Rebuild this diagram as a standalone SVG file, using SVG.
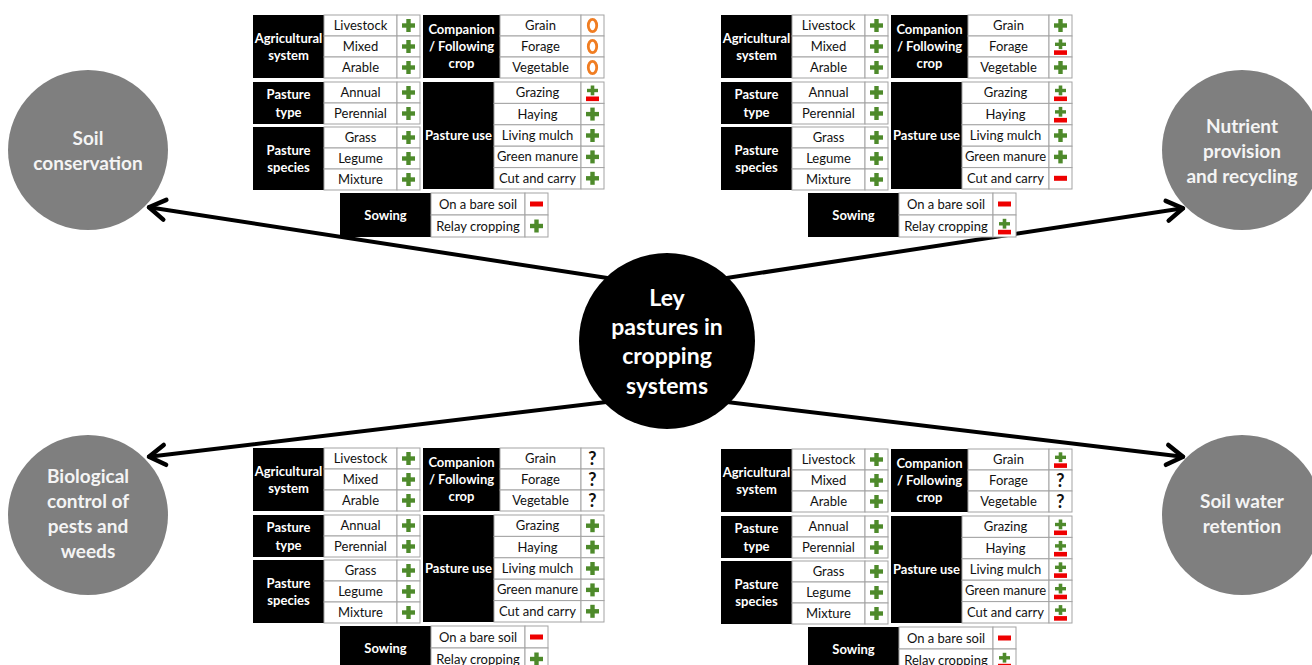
<svg xmlns="http://www.w3.org/2000/svg" width="1312" height="665" viewBox="0 0 1312 665">
<style>
.blk{fill:#000}
.cell{fill:#fff;stroke:#a3a3a3;stroke-width:1}
.it{font-family:Lato,"Liberation Sans",sans-serif;font-size:13px;fill:#111;text-anchor:middle}
.lb{font-family:Lato,"Liberation Sans",sans-serif;font-weight:bold;font-size:13px;fill:#fff;text-anchor:middle}
.ct{font-family:Lato,"Liberation Sans",sans-serif;font-weight:bold;font-size:19px;fill:#f4f4f4;text-anchor:middle}
.cc{font-family:Lato,"Liberation Sans",sans-serif;font-weight:bold;font-size:23px;fill:#fff;text-anchor:middle}
.q{font-family:Lato,"Liberation Sans",sans-serif;font-weight:bold;font-size:18px;fill:#111;text-anchor:middle}
.gc{fill:#7f7f7f}
.con{fill:none;stroke:#000;stroke-width:4;stroke-linecap:round;marker-end:url(#ah)}
</style>
<defs>
<marker id="ah" markerUnits="userSpaceOnUse" viewBox="-22 -14 26 28" refX="0" refY="0" markerWidth="26" markerHeight="28" orient="auto">
<path d="M-16,-10 L0,0 L-16,10" fill="none" stroke="#000" stroke-width="4.5" stroke-linecap="round" stroke-linejoin="round"/>
</marker>
<g id="p" fill="#4e8a2b"><rect x="-6.5" y="-2.2" width="13" height="4.4"/><rect x="-2.2" y="-6.5" width="4.4" height="13"/></g>
<rect id="m" x="-6.5" y="-2.5" width="13" height="5" fill="#ee0000"/>
<g id="pm"><g fill="#4e8a2b"><rect x="-5.5" y="-3.9" width="11" height="3.4"/><rect x="-1.8" y="-7.2" width="3.6" height="9.8"/></g><rect x="-6.5" y="3.8" width="13" height="4.6" fill="#ee0000"/></g>
<ellipse id="o" rx="4.2" ry="6.2" fill="none" stroke="#f07d22" stroke-width="2.8"/>
<g id="tbl">
<rect class="blk" x="253" y="15" width="71" height="63"/>
<rect class="blk" x="423" y="15" width="77" height="63"/>
<rect class="blk" x="253" y="82" width="71" height="42"/>
<rect class="blk" x="253" y="127" width="71" height="63"/>
<rect class="blk" x="423" y="82" width="71" height="107"/>
<rect class="blk" x="340" y="193" width="91" height="44"/>
<rect class="cell" x="324" y="15" width="73" height="21"/><rect class="cell" x="397" y="15" width="23" height="21"/>
<rect class="cell" x="324" y="36" width="73" height="21"/><rect class="cell" x="397" y="36" width="23" height="21"/>
<rect class="cell" x="324" y="57" width="73" height="21"/><rect class="cell" x="397" y="57" width="23" height="21"/>
<rect class="cell" x="500" y="15" width="81" height="21"/><rect class="cell" x="581" y="15" width="23" height="21"/>
<rect class="cell" x="500" y="36" width="81" height="21"/><rect class="cell" x="581" y="36" width="23" height="21"/>
<rect class="cell" x="500" y="57" width="81" height="21"/><rect class="cell" x="581" y="57" width="23" height="21"/>
<rect class="cell" x="324" y="82" width="73" height="21"/><rect class="cell" x="397" y="82" width="23" height="21"/>
<rect class="cell" x="324" y="103" width="73" height="21"/><rect class="cell" x="397" y="103" width="23" height="21"/>
<rect class="cell" x="324" y="127" width="73" height="21"/><rect class="cell" x="397" y="127" width="23" height="21"/>
<rect class="cell" x="324" y="148" width="73" height="21"/><rect class="cell" x="397" y="148" width="23" height="21"/>
<rect class="cell" x="324" y="169" width="73" height="21"/><rect class="cell" x="397" y="169" width="23" height="21"/>
<rect class="cell" x="494" y="82" width="87" height="21.4"/><rect class="cell" x="581" y="82" width="23" height="21.4"/>
<rect class="cell" x="494" y="103.4" width="87" height="21.4"/><rect class="cell" x="581" y="103.4" width="23" height="21.4"/>
<rect class="cell" x="494" y="124.8" width="87" height="21.4"/><rect class="cell" x="581" y="124.8" width="23" height="21.4"/>
<rect class="cell" x="494" y="146.2" width="87" height="21.4"/><rect class="cell" x="581" y="146.2" width="23" height="21.4"/>
<rect class="cell" x="494" y="167.6" width="87" height="21.4"/><rect class="cell" x="581" y="167.6" width="23" height="21.4"/>
<rect class="cell" x="431" y="193" width="94" height="22"/><rect class="cell" x="525" y="193" width="23" height="22"/>
<rect class="cell" x="431" y="215" width="94" height="22"/><rect class="cell" x="525" y="215" width="23" height="22"/>
<text class="lb" x="288.5" y="42.5">Agricultural</text><text class="lb" x="288.5" y="59.5">system</text>
<text class="lb" x="461.5" y="33.5">Companion</text><text class="lb" x="461.5" y="50.5">/ Following</text><text class="lb" x="461.5" y="67.5">crop</text>
<text class="lb" x="288.5" y="98.5">Pasture</text><text class="lb" x="288.5" y="116.5">type</text>
<text class="lb" x="288.5" y="154.5">Pasture</text><text class="lb" x="288.5" y="171.5">species</text>
<text class="lb" x="458.5" y="139.5">Pasture use</text>
<text class="lb" x="385.5" y="219.5">Sowing</text>
<text class="it" x="360.5" y="30">Livestock</text><text class="it" x="360.5" y="51">Mixed</text><text class="it" x="360.5" y="72">Arable</text>
<text class="it" x="540.5" y="30">Grain</text><text class="it" x="540.5" y="51">Forage</text><text class="it" x="540.5" y="72">Vegetable</text>
<text class="it" x="360.5" y="97">Annual</text><text class="it" x="360.5" y="118">Perennial</text>
<text class="it" x="360.5" y="142">Grass</text><text class="it" x="360.5" y="163">Legume</text><text class="it" x="360.5" y="184">Mixture</text>
<text class="it" x="537.5" y="97.2">Grazing</text><text class="it" x="537.5" y="118.6">Haying</text><text class="it" x="537.5" y="140">Living mulch</text><text class="it" x="537.5" y="161.4">Green manure</text><text class="it" x="537.5" y="182.8">Cut and carry</text>
<text class="it" x="478" y="208.5">On a bare soil</text><text class="it" x="478" y="230.5">Relay cropping</text>
<use href="#p" x="408.5" y="25.5"/><use href="#p" x="408.5" y="46.5"/><use href="#p" x="408.5" y="67.5"/>
<use href="#p" x="408.5" y="92.5"/><use href="#p" x="408.5" y="113.5"/>
<use href="#p" x="408.5" y="137.5"/><use href="#p" x="408.5" y="158.5"/><use href="#p" x="408.5" y="179.5"/>
<use href="#m" x="536.5" y="204"/>
</g>
</defs>
<rect width="1312" height="665" fill="#fff"/>
<g id="connectors">
<path class="con" d="M640,283 L149,207.3"/>
<path class="con" d="M694,283 L1183,208.3"/>
<path class="con" d="M640,398 L149,456.8"/>
<path class="con" d="M694,398 L1183,456.8"/>
</g>
<g id="table-soil-conservation">
<use href="#tbl"/>
<use href="#o" x="592.5" y="25.5"/><use href="#o" x="592.5" y="46.5"/><use href="#o" x="592.5" y="67.5"/>
<use href="#pm" x="592.5" y="92.7"/><use href="#p" x="592.5" y="114.1"/><use href="#p" x="592.5" y="135.5"/><use href="#p" x="592.5" y="156.9"/><use href="#p" x="592.5" y="178.3"/>
<use href="#p" x="536.5" y="226"/>
</g>
<g id="table-nutrient" transform="translate(468,0)">
<use href="#tbl"/>
<use href="#p" x="592.5" y="25.5"/><use href="#pm" x="592.5" y="46.5"/><use href="#p" x="592.5" y="67.5"/>
<use href="#pm" x="592.5" y="92.7"/><use href="#pm" x="592.5" y="114.1"/><use href="#p" x="592.5" y="135.5"/><use href="#p" x="592.5" y="156.9"/><use href="#m" x="592.5" y="178.3"/>
<use href="#pm" x="536.5" y="226"/>
</g>
<g id="table-biological" transform="translate(0,433)">
<use href="#tbl"/>
<text class="q" x="592.5" y="32">?</text><text class="q" x="592.5" y="53">?</text><text class="q" x="592.5" y="74">?</text>
<use href="#p" x="592.5" y="92.7"/><use href="#p" x="592.5" y="114.1"/><use href="#p" x="592.5" y="135.5"/><use href="#p" x="592.5" y="156.9"/><use href="#p" x="592.5" y="178.3"/>
<use href="#p" x="536.5" y="226"/>
</g>
<g id="table-water" transform="translate(468,434)">
<use href="#tbl"/>
<use href="#pm" x="592.5" y="25.5"/><text class="q" x="592.5" y="53">?</text><text class="q" x="592.5" y="74">?</text>
<use href="#pm" x="592.5" y="92.7"/><use href="#pm" x="592.5" y="114.1"/><use href="#pm" x="592.5" y="135.5"/><use href="#pm" x="592.5" y="156.9"/><use href="#pm" x="592.5" y="178.3"/>
<use href="#pm" x="536.5" y="226"/>
</g>
<g id="node-center">
<circle cx="667" cy="341" r="88" fill="#000"/>
<text class="cc" x="667" y="306">Ley</text>
<text class="cc" x="667" y="335">pastures in</text>
<text class="cc" x="667" y="364">cropping</text>
<text class="cc" x="667" y="394">systems</text>
</g>
<g id="node-soil-conservation">
<circle class="gc" cx="88" cy="150" r="80"/>
<text class="ct" x="88" y="145">Soil</text>
<text class="ct" x="88" y="170">conservation</text>
</g>
<g id="node-nutrient">
<circle class="gc" cx="1242" cy="150" r="80"/>
<text class="ct" x="1242" y="133">Nutrient</text>
<text class="ct" x="1242" y="158">provision</text>
<text class="ct" x="1242" y="183">and recycling</text>
</g>
<g id="node-biological">
<circle class="gc" cx="88" cy="515" r="80"/>
<text class="ct" x="88" y="483">Biological</text>
<text class="ct" x="88" y="508">control of</text>
<text class="ct" x="88" y="533">pests and</text>
<text class="ct" x="88" y="558">weeds</text>
</g>
<g id="node-water">
<circle class="gc" cx="1242" cy="515" r="80"/>
<text class="ct" x="1242" y="508">Soil water</text>
<text class="ct" x="1242" y="533">retention</text>
</g>
</svg>
